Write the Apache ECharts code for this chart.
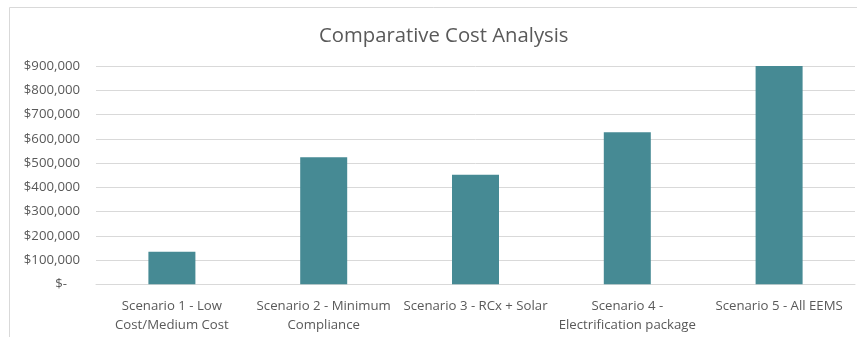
<!DOCTYPE html>
<html><head><meta charset="utf-8">
<script src="https://cdn.jsdelivr.net/npm/echarts@6/dist/echarts.min.js"></script>
<style>html,body{margin:0;padding:0;background:#fff}#c{width:857px;height:337px}</style>
</head><body><div id="c"></div>
<script>
var categories = ['Scenario 1 - Low\nCost/Medium Cost', 'Scenario 2 - Minimum\nCompliance', 'Scenario 3 - RCx + Solar', 'Scenario 4 -\nElectrification package', 'Scenario 5 - All EEMS'];
var costs = [134000, 524000, 452000, 627000, 900000];
var yTicks = [0, 100000, 200000, 300000, 400000, 500000, 600000, 700000, 800000, 900000];

var chart = echarts.init(document.getElementById('c'), null, {renderer: 'canvas'});
var font = "'Open Sans', 'Noto Sans', sans-serif";
chart.setOption({
  animation: false,
  backgroundColor: '#fff',
  graphic: [{type: 'rect', shape: {x: 9.5, y: 7.5, width: 900, height: 400}, style: {fill: 'none', stroke: '#d9d9d9', lineWidth: 1}, z: -1}],
  title: {text: 'Comparative Cost Analysis', left: 314, top: 21, textStyle: {fontFamily: font, fontSize: 20.3, fontWeight: 'normal', color: '#595959'}},
  grid: {left: 96, right: 2, top: 66, bottom: 52.7},
  xAxis: {
    type: 'category', data: categories,
    axisLine: {lineStyle: {color: '#d9d9d9'}}, axisTick: {show: false},
    axisLabel: {fontFamily: font, fontSize: 13.2, color: '#595959', lineHeight: 19, margin: 12, interval: 0}
  },
  yAxis: {
    type: 'value', min: yTicks[0], max: yTicks[yTicks.length - 1], interval: yTicks[1] - yTicks[0],
    axisLine: {show: false}, axisTick: {show: false},
    splitLine: {lineStyle: {color: '#d9d9d9'}},
    axisLabel: {
      fontFamily: font, fontSize: 13.2, color: '#595959', margin: 16,
      formatter: function (v) { return v === 0 ? '{z|$-}' : '$' + v.toLocaleString('en-US'); },
      rich: {z: {fontFamily: font, fontSize: 13.2, color: '#595959', padding: [0, 13, 0, 0]}}
    }
  },
  series: [{type: 'bar', data: costs, barWidth: 47, itemStyle: {color: '#468a94'}}]
});
</script></body></html>
